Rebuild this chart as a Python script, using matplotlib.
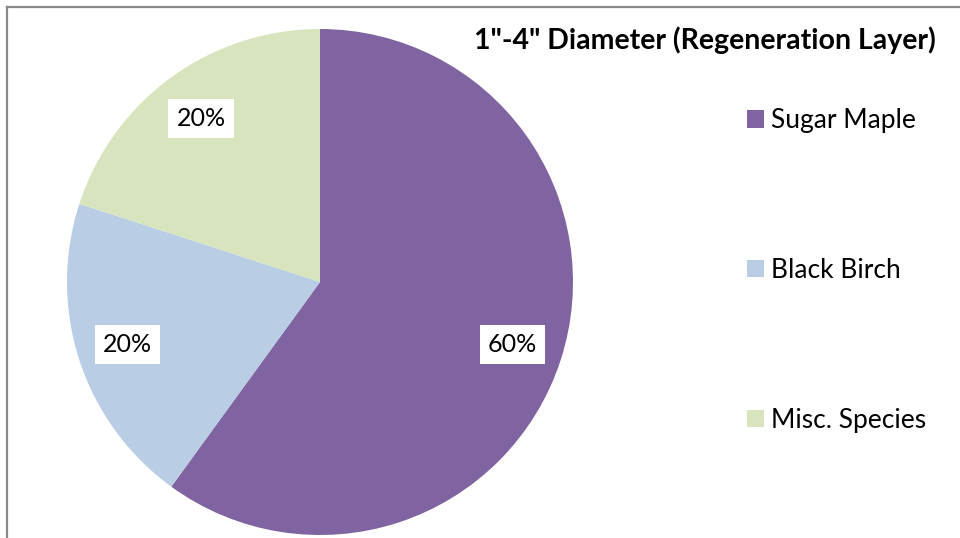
import numpy as np
import matplotlib
matplotlib.use('Agg')
import matplotlib.pyplot as plt
from matplotlib.patches import Patch
from matplotlib.lines import Line2D

plt.rcParams['font.family'] = ['Lato', 'DejaVu Sans']

# data
species = ['Sugar Maple', 'Black Birch', 'Misc. Species']
shares = [60, 20, 20]
colors = ['#8064A2', '#B9CDE5', '#D7E4BD']
title = '1"-4" Diameter (Regeneration Layer)'

W, H = 960, 538
fig = plt.figure(figsize=(W / 100, H / 100), dpi=100)

# pie axes in pixel units
ax = fig.add_axes([0, 0, 1, 1])

wedges, texts, autotexts = ax.pie(
    shares, colors=colors, startangle=90, counterclock=False,
    center=(320, H - 282), radius=253, frame=True,
    autopct='%d%%', pctdistance=0.8,
    wedgeprops=dict(linewidth=0),
    textprops=dict(fontsize=18, color='black'))
ax.set_xlim(0, W)
ax.set_ylim(0, H)
ax.set_aspect('auto')
ax.axis('off')
for t in autotexts:
    t.set_bbox(dict(facecolor='white', edgecolor='none', pad=6))

# outer frame (only top and left visible)
fig.add_artist(Line2D([6.5 / W, 1], [1 - 6.5 / H, 1 - 6.5 / H], color='#898989', lw=1.6,
                      transform=fig.transFigure))
fig.add_artist(Line2D([6.5 / W, 6.5 / W], [0, 1 - 6.5 / H], color='#898989', lw=1.6,
                      transform=fig.transFigure))

fig.text(705 / W, 1 - 40 / H, title, ha='center', va='center',
         fontsize=20.5, fontweight='bold')

# legend
handles = [Patch(facecolor=c, edgecolor='none') for c in colors]
fig.legend(handles, species, loc='upper left', bbox_to_anchor=(747 / W, 1 - 108 / H),
           frameon=False, fontsize=19, handlelength=0.65, handleheight=0.65,
           handletextpad=0.27, labelspacing=4.73, borderpad=0, borderaxespad=0)

fig.savefig('out.png', dpi=100)
